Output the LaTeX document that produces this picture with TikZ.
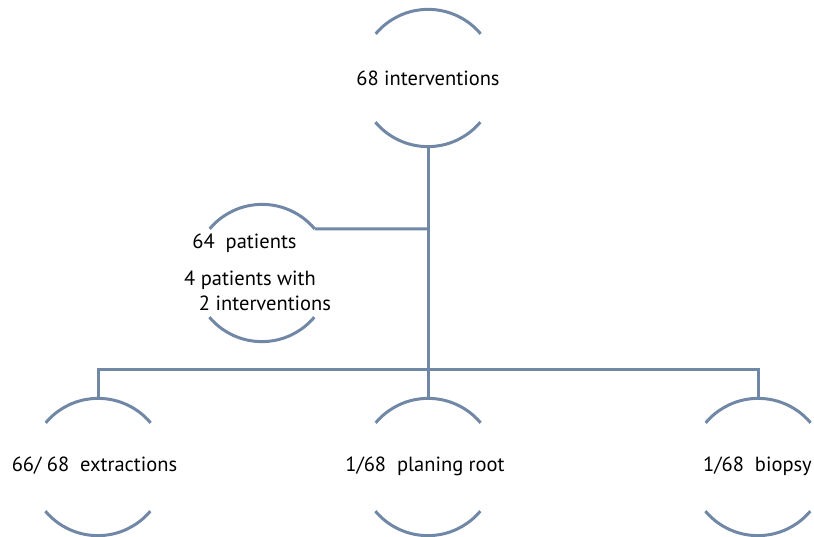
\documentclass[tikz,border=0pt]{standalone}
\usepackage{fontspec}
\setmainfont{PT Sans}
\definecolor{linec}{RGB}{112,135,166}
\tikzset{
  ring/.style={circle, minimum size=137pt, inner sep=0pt, draw=none},
  lbl/.style={font=\fontsize{20.5}{24}\selectfont, inner sep=0pt, text=black},
  conn/.style={draw=linec, line width=3pt},
}
\newcommand{\halfarcs}[2]{%
  \draw[conn] (#1.40) arc[start angle=40, end angle=140, radius=#2];
  \draw[conn] (#1.220) arc[start angle=220, end angle=320, radius=#2];
}
\begin{document}
\begin{tikzpicture}[x=1pt,y=1pt]
\useasboundingbox (0,0) rectangle (814,536);
% circles
\node[ring] (top) at (428,458) {};
\node[ring] (mid) at (262,263) {};
\node[ring] (left) at (98,69) {};
\node[ring] (center) at (428,69) {};
\node[ring] (right) at (758,69) {};
\halfarcs{top}{68.5pt}
\halfarcs{mid}{68.5pt}
\halfarcs{left}{68.5pt}
\halfarcs{center}{68.5pt}
\halfarcs{right}{68.5pt}
% texts
\node[lbl] (ttop) at (428,458) {68 interventions};
\node[lbl] (tmid1) at (244.5,293) {64\ \ patients};
\node[lbl] (tmid2) at (250,256) {4 patients with};
\node[lbl] (tmid3) at (265,233) {2 interventions};
\node[lbl] (tleft) at (94.5,70) {66/ 68\ \ extractions};
\node[lbl] (tcenter) at (425,70) {1/68\ \ planing root};
\node[lbl] (tright) at (757.5,70) {1/68\ \ biopsy};
% connectors
\coordinate (busC) at (428,166);
\coordinate (busL) at (98,166);
\coordinate (busR) at (758,166);
\coordinate (midJ) at (428,307);
\draw[conn] (top.south) -- (busC);
\draw[conn] (mid.40) -- (midJ);
\draw[conn] (left.north) -- (busL) -- (busR) -- (right.north);
\draw[conn] (busC) -- (center.north);
\end{tikzpicture}
\end{document}
